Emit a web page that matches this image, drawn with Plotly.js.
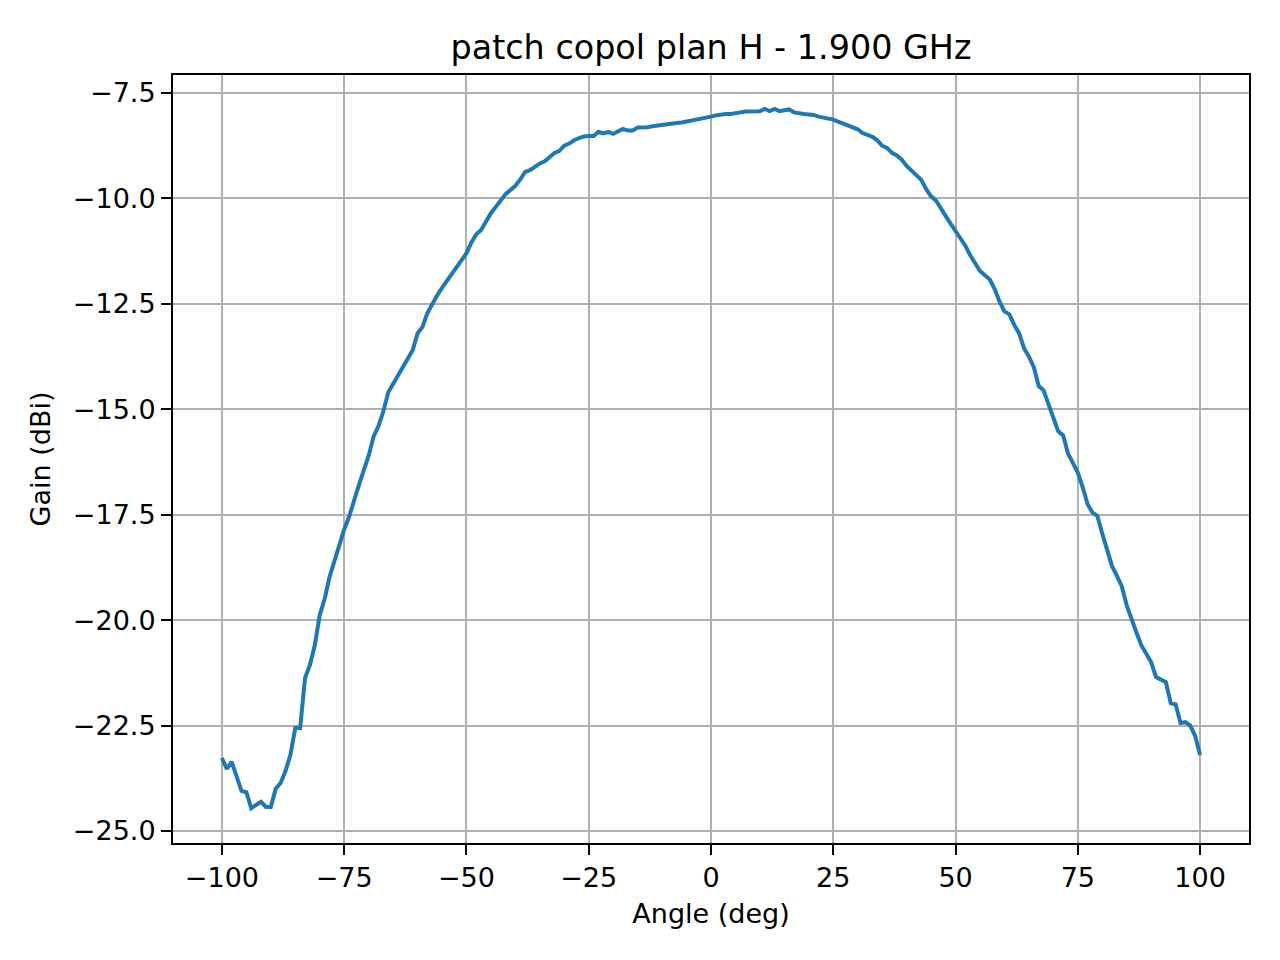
<!DOCTYPE html>
<html>
<head>
<meta charset="utf-8">
<script src="https://cdn.plot.ly/plotly-3.0.1.min.js"></script>
<style>
  html, body { margin: 0; padding: 0; background: #fff; }
  #tester { width: 1280px; height: 960px; }
</style>
</head>
<body>
<div id="tester"></div>
<script>
// measured angle in degrees, one sample per degree
var angles = [];
for (var a = -100; a <= 100; a++) { angles.push(a); }

// gain (dBi), from -100 to 100 deg
var gainLeft = [
  -23.27, -23.53, -23.36, -23.72, -24.05, -24.08, -24.46, -24.38, -24.31, -24.43,
  -24.43, -24.00, -23.86, -23.58, -23.20, -22.56, -22.56, -21.37, -21.06, -20.59,
  -19.88, -19.50, -18.98, -18.60, -18.20, -17.85, -17.55, -17.15, -16.80, -16.45,
  -16.10, -15.65, -15.40, -15.05, -14.60, -14.40, -14.20, -14.00, -13.80, -13.60,
  -13.20, -13.05, -12.72, -12.50, -12.30, -12.12, -11.95, -11.80, -11.62, -11.45,
  -11.30, -11.05, -10.85, -10.75, -10.55, -10.35, -10.20, -10.03, -9.90, -9.80,
  -9.70, -9.55, -9.37, -9.33, -9.25, -9.17, -9.12, -9.03, -8.92, -8.87,
  -8.75, -8.70, -8.62, -8.57, -8.53, -8.52, -8.52, -8.42, -8.46, -8.42,
  -8.47, -8.41, -8.35, -8.39, -8.39, -8.32, -8.32, -8.31, -8.29, -8.27,
  -8.26, -8.24, -8.21, -8.21, -8.20, -8.18, -8.16, -8.13, -8.10, -8.09
];
var gainRight = [
  -8.06, -8.03, -8.01, -8.00, -8.00, -7.99, -7.96, -7.94, -7.93, -7.93,
  -7.93, -7.88, -7.93, -7.88, -7.93, -7.91, -7.89, -7.96, -7.99, -8.00,
  -8.01, -8.02, -8.06, -8.08, -8.10, -8.13, -8.18, -8.23, -8.27, -8.32,
  -8.36, -8.45, -8.50, -8.54, -8.62, -8.75, -8.80, -8.92, -8.98, -9.08,
  -9.23, -9.33, -9.46, -9.56, -9.78, -9.95, -10.05, -10.25, -10.42, -10.60,
  -10.78, -10.95, -11.12, -11.35, -11.52, -11.72, -11.82, -11.92, -12.15, -12.45,
  -12.68, -12.75, -13.00, -13.20, -13.55, -13.75, -14.00, -14.45, -14.55, -14.85,
  -15.20, -15.52, -15.62, -16.05, -16.30, -16.50, -16.85, -17.25, -17.45, -17.53,
  -17.95, -18.30, -18.72, -18.95, -19.20, -19.65, -20.00, -20.30, -20.60, -20.80,
  -21.00, -21.35, -21.40, -21.47, -21.97, -22.00, -22.44, -22.42, -22.50, -22.75,
  -23.20
];
var gain = gainLeft.concat(gainRight);

var xTicks = [-100, -75, -50, -25, 0, 25, 50, 75, 100];
var yTicks = [-25, -22.5, -20, -17.5, -15, -12.5, -10, -7.5];

var graphDiv = document.getElementById('tester');

var data = [{
  type: 'scatter',
  mode: 'lines',
  x: angles,
  y: gain,
  line: { color: '#1f77b4', width: 4 },
  hoverinfo: 'x+y'
}];

var axisCommon = {
  showline: true,
  mirror: true,
  linecolor: '#000',
  linewidth: 2,
  showgrid: true,
  gridcolor: '#b0b0b0',
  gridwidth: 2,
  zeroline: false,
  ticks: 'outside',
  ticklen: 10,
  tickwidth: 2,
  tickcolor: '#000',
  tickfont: { size: 27, color: '#000' }
};

var layout = {
  width: 1280,
  height: 960,
  paper_bgcolor: '#fff',
  plot_bgcolor: '#fff',
  font: { family: 'DejaVu Sans, sans-serif', color: '#000' },
  showlegend: false,
  margin: { l: 173, r: 31, t: 75, b: 117, pad: 0 },
  title: {
    text: 'patch copol plan H - 1.900 GHz',
    font: { size: 33.4, color: '#000' },
    x: 0.5, xref: 'paper',
    y: 1 - 47 / 960, yref: 'container', yanchor: 'middle'
  },
  xaxis: Object.assign({}, axisCommon, {
    range: [-110, 110],
    tickvals: xTicks,
    title: { text: 'Angle (deg)', font: { size: 27 }, standoff: 12 }
  }),
  yaxis: Object.assign({}, axisCommon, {
    range: [-25.285, -7.073],
    tickvals: yTicks,
    tickformat: '.1f',
    title: { text: 'Gain (dBi)', font: { size: 27 }, standoff: 14 }
  })
};

Plotly.newPlot(graphDiv, data, layout, { displayModeBar: false, staticPlot: true });
</script>
</body>
</html>
